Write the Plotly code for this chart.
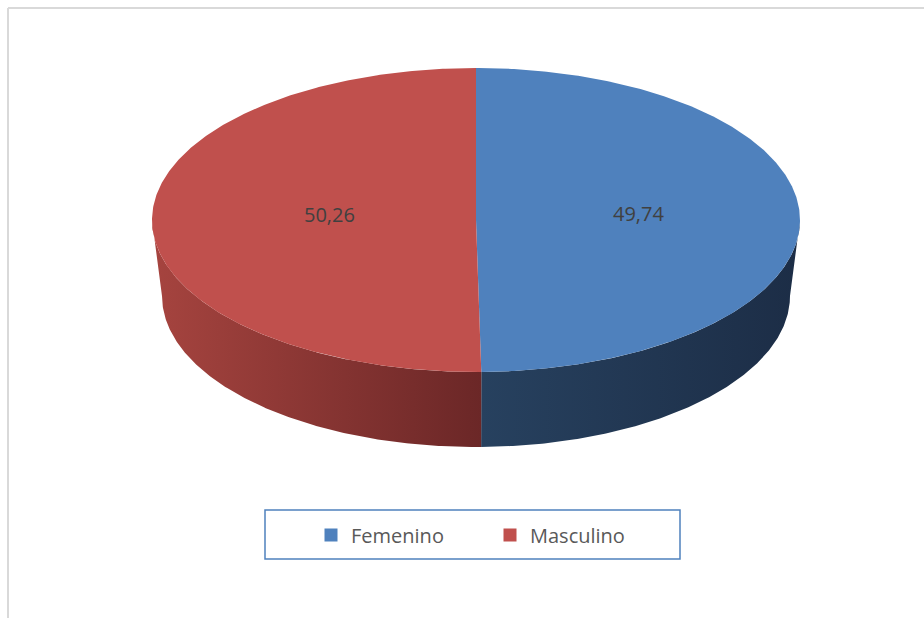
import numpy as np
import plotly.graph_objects as go

# Data
categories = ["Femenino", "Masculino"]
values = [49.74, 50.26]
value_labels = ["49,74", "50,26"]

# Styling
top_colors = ["#4f81bd", "#c0504d"]
side_colors = [["#27415f", "#1c2d46"], ["#a6443f", "#6b2727"]]  # left -> right shading
label_color = "#404040"
legend_text_color = "#595959"
font_family = "Open Sans"

W, H = 924, 618
# Projected geometry of the 3D disc (top face and bottom rim), in pixel-like units
CX, CY, RX, RY = 476, 220, 324, 152
BX, BY, BRX, BRY = 476, 296, 314, 151


def top_pt(t):
    return CX + RX * np.sin(t), CY - RY * np.cos(t)


def bot_pt(t):
    return BX + BRX * np.sin(t), BY - BRY * np.cos(t)


fractions = np.array(values) / np.sum(values)
bounds = np.concatenate([[0.0], np.cumsum(fractions)]) * 2 * np.pi

fig = go.Figure()

# Visible side walls (front half of the disc)
for i in range(len(values)):
    a = max(bounds[i], np.pi / 2)
    b = min(bounds[i + 1], 3 * np.pi / 2)
    if a >= b:
        continue
    t = np.linspace(a, b, 200)
    tx, ty = top_pt(t)
    bx, by = bot_pt(t[::-1])
    xs = np.concatenate([tx, bx, tx[:1]])
    ys = np.concatenate([ty, by, ty[:1]])
    fig.add_trace(go.Scatter(
        x=xs, y=ys, mode="lines", fill="toself",
        line=dict(width=0, color=side_colors[i][1]),
        fillcolor=side_colors[i][1],
        fillgradient=dict(type="horizontal",
                          colorscale=[[0, side_colors[i][0]], [1, side_colors[i][1]]]),
        hoverinfo="skip", showlegend=False,
    ))

# Top faces (elliptical sectors)
for i in range(len(values)):
    t = np.linspace(bounds[i], bounds[i + 1], 400)
    tx, ty = top_pt(t)
    xs = np.concatenate([[CX], tx, [CX]])
    ys = np.concatenate([[CY], ty, [CY]])
    fig.add_trace(go.Scatter(
        x=xs, y=ys, mode="lines", fill="toself",
        line=dict(width=0, color=top_colors[i]),
        fillcolor=top_colors[i],
        hoverinfo="skip", showlegend=False,
    ))

# Value labels on the top faces
LABEL_DX, LABEL_DY, LABEL_R = 8, -6, 0.478
for i in range(len(values)):
    mid = (bounds[i] + bounds[i + 1]) / 2
    lx = CX + LABEL_DX + RX * LABEL_R * np.sin(mid)
    ly = CY + LABEL_DY - RY * LABEL_R * np.cos(mid)
    fig.add_annotation(x=lx, y=ly, xref="x", yref="y", text=value_labels[i],
                       showarrow=False,
                       font=dict(family=font_family, size=20, color=label_color))

# Legend entries
for i in range(len(values)):
    fig.add_trace(go.Scatter(
        x=[None], y=[None], mode="markers", name=categories[i],
        marker=dict(symbol="square", size=13, color=top_colors[i]),
    ))

# Chart frame and legend box
fig.add_shape(type="line", xref="x", yref="y", x0=8, x1=W, y0=8, y1=8,
              line=dict(color="#d9d9d9", width=2))
fig.add_shape(type="line", xref="x", yref="y", x0=8, x1=8, y0=8, y1=H,
              line=dict(color="#d9d9d9", width=2))
fig.add_shape(type="rect", xref="x", yref="y", x0=265, x1=680, y0=510, y1=559,
              line=dict(color="#4f81bd", width=1.5), fillcolor="rgba(0,0,0,0)")

fig.update_layout(
    width=W, height=H, autosize=False,
    margin=dict(l=0, r=0, t=0, b=0),
    paper_bgcolor="white", plot_bgcolor="white",
    xaxis=dict(range=[0, W], visible=False, fixedrange=True),
    yaxis=dict(range=[H, 0], visible=False, fixedrange=True),
    showlegend=True,
    legend=dict(
        orientation="h", x=311 / W, xanchor="left", y=1 - 535 / H, yanchor="middle",
        entrywidth=134, bgcolor="rgba(0,0,0,0)", borderwidth=0,
        font=dict(family=font_family, size=20, color=legend_text_color),
        itemclick=False, itemdoubleclick=False,
    ),
    font=dict(family=font_family),
)

fig.write_html("out.html")
